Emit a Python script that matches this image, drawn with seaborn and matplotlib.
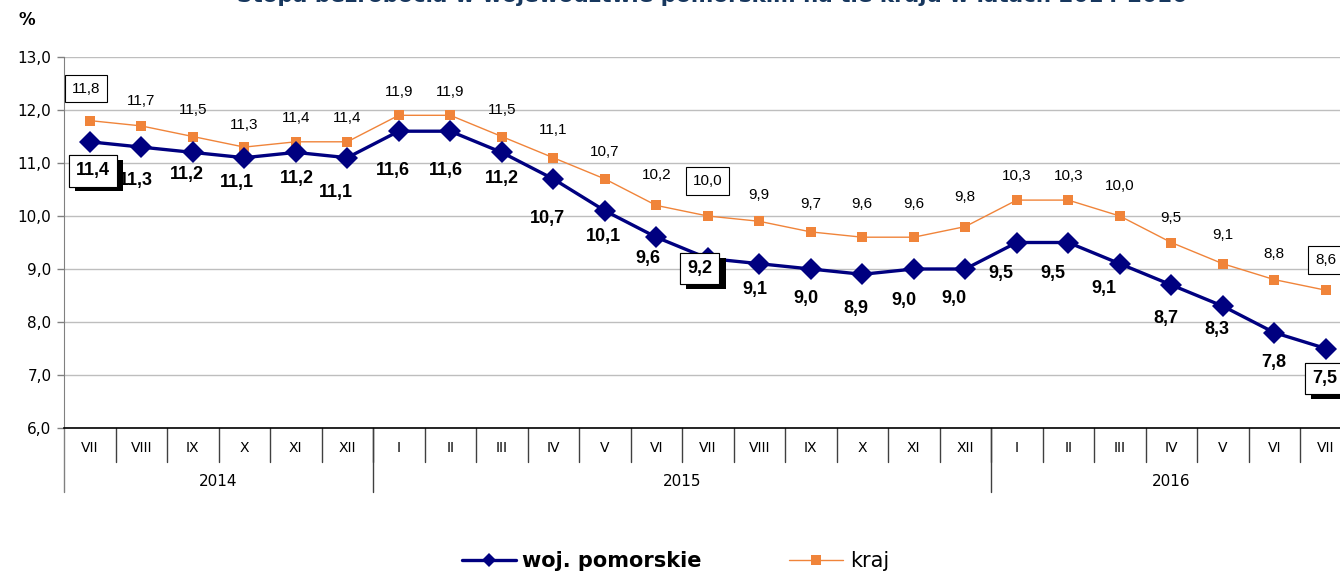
import numpy as np
import pandas as pd
import matplotlib
matplotlib.use("Agg")
import matplotlib.pyplot as plt
import matplotlib.patheffects as pe
import seaborn as sns

# data
months = ["VII", "VIII", "IX", "X", "XI", "XII",
          "I", "II", "III", "IV", "V", "VI", "VII", "VIII", "IX", "X", "XI", "XII",
          "I", "II", "III", "IV", "V", "VI", "VII"]
years = ["2014", "2015", "2016"]
year_counts = [6, 12, 7]
pomorskie = [11.4, 11.3, 11.2, 11.1, 11.2, 11.1, 11.6, 11.6, 11.2, 10.7, 10.1, 9.6,
             9.2, 9.1, 9.0, 8.9, 9.0, 9.0, 9.5, 9.5, 9.1, 8.7, 8.3, 7.8, 7.5]
kraj = [11.8, 11.7, 11.5, 11.3, 11.4, 11.4, 11.9, 11.9, 11.5, 11.1, 10.7, 10.2,
        10.0, 9.9, 9.7, 9.6, 9.6, 9.8, 10.3, 10.3, 10.0, 9.5, 9.1, 8.8, 8.6]
boxed = [0, 12, 24]

# label offsets in pixels (layout only)
pom_dx = [3, -5, -6, -7, 1, -11, -6, -4, 0, -6, -1, -8, -8, -4, -5, -6, -10, -11,
          -16, -15, -16, -5, -6, -1, -1]
pom_dy = [-29, -33, -22, -25, -26, -35, -39, -39, -26, -40, -26, -21, -10, -26, -30,
          -34, -32, -30, -31, -31, -25, -34, -23, -30, -30]
kraj_dx = [-4] + [0] * 24
kraj_dy = [32, 25, 27, 22, 24, 24, 23, 23, 27, 28, 27, 30, 35, 26, 28, 33, 33, 30,
           24, 24, 30, 25, 29, 26, 30]

df = pd.DataFrame({"pos": np.arange(len(months)), "pom": pomorskie, "kraj": kraj})

sns.set_style("white")
plt.rcParams["font.family"] = ["DejaVu Sans"]
plt.rcParams["text.color"] = "black"
plt.rcParams["ytick.color"] = "black"

NAVY = "#000080"
ORANGE = "#F0843A"

fig = plt.figure(figsize=(13.4, 5.72), dpi=100)
ax = fig.add_axes([64 / 1340, 1 - 428 / 572, 1287.5 / 1340, 371 / 572])

sns.lineplot(data=df, x="pos", y="kraj", ax=ax, color=ORANGE, lw=1.0, marker="s",
             markersize=6.5, markeredgewidth=0, label="kraj", zorder=3)
sns.lineplot(data=df, x="pos", y="pom", ax=ax, color=NAVY, lw=2.4, marker="D",
             markersize=11, markeredgewidth=0, label="woj. pomorskie", zorder=4)

ax.set_xlim(-0.5, len(months) - 0.5)
ax.set_ylim(6, 13)
ax.set_yticks(np.arange(6, 13.1, 1))
ax.set_yticklabels([f"{v:.1f}".replace(".", ",") for v in np.arange(6, 13.1, 1)],
                   fontsize=11, color="black")
ax.set_xticks([])
ax.set_xlabel("")
ax.set_ylabel("")
ax.grid(axis="y", color="#BEBEBE", lw=1)
ax.tick_params(axis="y", length=5, width=1, color="#808080", direction="out", pad=4, left=True)
for s in ["top", "right"]:
    ax.spines[s].set_visible(False)
ax.spines["left"].set_color("#808080")
ax.spines["left"].set_bounds(6, 13)
ax.spines["bottom"].set_color("black")
ax.spines["bottom"].set_linewidth(1.2)

# category axis: month separators, month and year labels
trans = ax.get_xaxis_transform()
h = 371.0
for k in range(1, len(months)):
    ax.plot([k - 0.5, k - 0.5], [0, -34 / h], transform=trans, color="#404040",
            lw=1, clip_on=False)
edges = np.cumsum([0] + year_counts) - 0.5
for e in edges[:-1]:
    ax.plot([e, e], [0, -64 / h], transform=trans, color="#404040" if e > 0 else "#808080",
            lw=1, clip_on=False)
for i, m in enumerate(months):
    ax.text(i, -20 / h, m, transform=trans, ha="center", va="center", fontsize=10)
for y, a, b in zip(years, edges[:-1], edges[1:]):
    ax.text((a + b) / 2, -53 / h, y, transform=trans, ha="center", va="center", fontsize=11)

# value labels
for i, v in enumerate(kraj):
    t = ax.annotate(f"{v:.1f}".replace(".", ","), (i, v), xytext=(kraj_dx[i], kraj_dy[i]),
                    textcoords="offset pixels", ha="center", va="center",
                    fontsize=11, family="Liberation Sans", zorder=5)
    if i in boxed:
        t.set_bbox(dict(boxstyle="square,pad=0.45", fc="white", ec="black", lw=0.8))
for i, v in enumerate(pomorskie):
    t = ax.annotate(f"{v:.1f}".replace(".", ","), (i, v), xytext=(pom_dx[i], pom_dy[i]),
                    textcoords="offset pixels", ha="center", va="center",
                    fontsize=13, fontweight="bold", family="Liberation Sans", zorder=6)
    if i in boxed:
        t.set_bbox(dict(boxstyle="square,pad=0.4", fc="white", ec="black", lw=0.8))
        t.get_bbox_patch().set_path_effects([
            pe.withSimplePatchShadow(offset=(4.5, -3.5), shadow_rgbFace="black", alpha=1),
            pe.Normal()])

ax.get_legend().remove()
handles, labels = ax.get_legend_handles_labels()
order = [labels.index("woj. pomorskie"), labels.index("kraj")]
leg = fig.legend([handles[j] for j in order], [labels[j] for j in order], ncol=2,
                 loc="center", bbox_to_anchor=(0.504, 1 - 561 / 572), frameon=False,
                 fontsize=15, handlelength=2.6, columnspacing=4.2, handletextpad=0.3)
leg.get_texts()[0].set_fontweight("bold")
for lh in leg.legend_handles:
    lh.set_markersize(7)

fig.text(27 / 1340, 1 - 20 / 572, "%", ha="center", va="center", fontsize=12,
         fontweight="bold")
fig.text(712 / 1340, 1 - 2.5 / 572, "Stopa bezrobocia w województwie pomorskim na tle kraju w latach 2014-2016",
         ha="center", va="baseline", fontsize=15.5, fontweight="bold", color="#17375E")

fig.savefig("out.png", dpi=100)
